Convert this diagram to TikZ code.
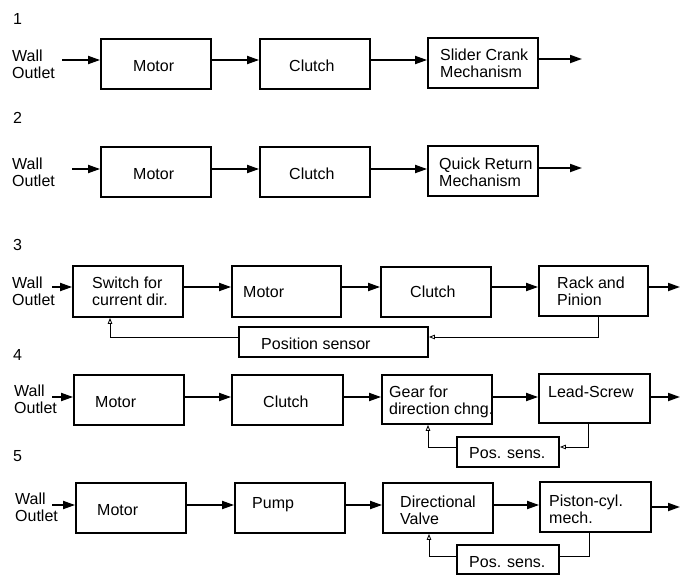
\documentclass[tikz,border=0pt]{standalone}
\usepackage{fontspec}
\setmainfont{Liberation Sans}
\usetikzlibrary{arrows.meta}
\newcommand\bx[5]{\node[box, minimum width={(#4-#2)*1pt}, minimum height={(#5-#3)*1pt}] (#1) at ({(#2+#4)/2},{(#3+#5)/2}) {};}
\begin{document}
\begin{tikzpicture}[x=1pt,y=-1pt,
  box/.style={draw, line width=1.8pt, inner sep=0pt},
  lbl/.style={anchor=west, inner sep=0pt, align=left, text depth=0pt, font=\fontsize{16}{16.5}\selectfont},
  flow/.style={line width=1.8pt, -{Triangle[length=12pt,width=8pt]}},
  fb/.style={line width=0.8pt},
  fbarr/.style={fb, -{Triangle[open,length=6pt,width=4.5pt]}}]
\useasboundingbox (0,0) rectangle (681,576);

% ---------- Row 1 ----------
\node[lbl] (n1) at (13,19) {1};
\node[lbl] (w1) at (12,64) {Wall\\Outlet};
\bx{m1}{101}{39}{211}{89}
\bx{c1}{260}{39}{370}{89}
\bx{s1}{428}{38}{538}{88}
\node[lbl] (tm1) at (133,66) {Motor};
\node[lbl] (tc1) at (289,66) {Clutch};
\node[lbl] (ts1) at (440,63) {Slider Crank\\Mechanism};
\coordinate (a1) at (0,60);
\coordinate (b1) at (62,60);
\coordinate (e1) at (582,59);
\draw[flow] (b1) -- (m1.west |- a1);
\draw[flow] (m1.east |- a1) -- (c1.west |- a1);
\draw[flow] (c1.east |- a1) -- (s1.west |- a1);
\draw[flow] (s1.east |- e1) -- (e1);

% ---------- Row 2 ----------
\node[lbl] (n2) at (13,118) {2};
\node[lbl] (w2) at (12,172) {Wall\\Outlet};
\bx{m2}{101}{147}{211}{197}
\bx{c2}{260}{147}{370}{197}
\bx{q2}{428}{146}{538}{196}
\node[lbl] (tm2) at (133,174) {Motor};
\node[lbl] (tc2) at (289,174) {Clutch};
\node[lbl] (tq2) at (439,172) {Quick Return\\Mechanism};
\coordinate (a2) at (0,169);
\coordinate (b2) at (72,169);
\coordinate (e2) at (582,168);
\draw[flow] (b2) -- (m2.west |- a2);
\draw[flow] (m2.east |- a2) -- (c2.west |- a2);
\draw[flow] (c2.east |- a2) -- (q2.west |- a2);
\draw[flow] (q2.east |- e2) -- (e2);

% ---------- Row 3 ----------
\node[lbl] (n3) at (13,245) {3};
\node[lbl] (w3) at (12,291) {Wall\\Outlet};
\bx{sw3}{73}{266}{183}{317}
\bx{m3}{232}{266}{341}{317}
\bx{c3}{381}{267}{491}{317}
\bx{r3}{539}{266}{648}{316}
\bx{p3}{239}{327}{428}{357}
\node[lbl] (tsw3) at (92,291) {Switch for\\current dir.};
\node[lbl] (tm3) at (243,292) {Motor};
\node[lbl] (tc3) at (410,292) {Clutch};
\node[lbl] (tr3) at (557,291) {Rack and\\Pinion};
\node[lbl] (tp3) at (261,344) {Position sensor};
\coordinate (a3) at (0,287);
\coordinate (b3) at (52,287);
\coordinate (e3) at (680,287);
\draw[flow] (b3) -- (sw3.west |- a3);
\draw[flow] (sw3.east |- a3) -- (m3.west |- a3);
\draw[flow] (m3.east |- a3) -- (c3.west |- a3);
\draw[flow] (c3.east |- a3) -- (r3.west |- a3);
\draw[flow] (r3.east |- e3) -- (e3);
\coordinate (f3a) at (598,337);
\coordinate (f3b) at (110,337);
\draw[fbarr] (r3.south -| f3a) |- (p3.east |- f3a);
\draw[fbarr] (p3.west |- f3a) -| (sw3.south -| f3b);

% ---------- Row 4 ----------
\node[lbl] (n4) at (13,355) {4};
\node[lbl] (w4) at (14,399) {Wall\\Outlet};
\bx{m4}{74}{375}{184}{425}
\bx{c4}{232}{375}{343}{425}
\bx{g4}{382}{375}{492}{424}
\bx{l4}{539}{374}{650}{423}
\bx{p4}{457}{437}{559}{467}
\node[lbl] (tm4) at (95,402) {Motor};
\node[lbl] (tc4) at (263,402) {Clutch};
\node[lbl] (tg4) at (389,400) {Gear for\\direction chng.};
\node[lbl] (tl4) at (548,392) {Lead-Screw};
\node[lbl] (tp4) at (469,453) {Pos. sens.};
\coordinate (a4) at (0,397);
\coordinate (b4) at (52,397);
\coordinate (e4) at (680,397);
\draw[flow] (b4) -- (m4.west |- a4);
\draw[flow] (m4.east |- a4) -- (c4.west |- a4);
\draw[flow] (c4.east |- a4) -- (g4.west |- a4);
\draw[flow] (g4.east |- a4) -- (l4.west |- a4);
\draw[flow] (l4.east |- e4) -- (e4);
\coordinate (f4a) at (588,447);
\coordinate (f4b) at (428,447);
\draw[fbarr] (l4.south -| f4a) |- (p4.east |- f4a);
\draw[fbarr] (p4.west |- f4a) -| (g4.south -| f4b);

% ---------- Row 5 ----------
\node[lbl] (n5) at (13,456) {5};
\node[lbl] (w5) at (15,507) {Wall\\Outlet};
\bx{m5}{76}{483}{186}{533}
\bx{pu5}{235}{483}{345}{533}
\bx{v5}{383}{483}{493}{533}
\bx{pc5}{540}{482}{651}{532}
\bx{p5}{457}{545}{559}{574}
\node[lbl] (tm5) at (97,510) {Motor};
\node[lbl] (tpu5) at (252,503) {Pump};
\node[lbl] (tv5) at (400,510) {Directional\\Valve};
\node[lbl] (tpc5) at (549,509) {Piston-cyl.\\mech.};
\node[lbl] (tp5) at (469,562) {Pos. sens.};
\coordinate (a5) at (0,505);
\coordinate (b5) at (52,505);
\coordinate (e5) at (680,507);
\draw[flow] (b5) -- (m5.west |- a5);
\draw[flow] (m5.east |- a5) -- (pu5.west |- a5);
\draw[flow] (pu5.east |- a5) -- (v5.west |- a5);
\draw[flow] (v5.east |- a5) -- (pc5.west |- a5);
\draw[flow] (pc5.east |- e5) -- (e5);
\coordinate (f5a) at (589,556);
\coordinate (f5b) at (429,556);
\draw[fb] (pc5.south -| f5a) |- (p5.east |- f5a);
\draw[fbarr] (p5.west |- f5a) -| (v5.south -| f5b);
\end{tikzpicture}
\end{document}
